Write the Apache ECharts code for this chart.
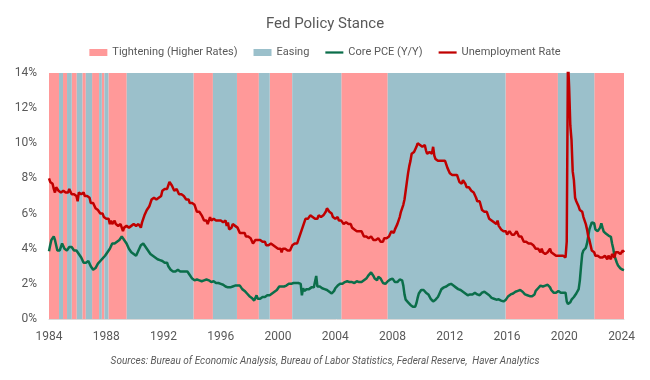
<!DOCTYPE html>
<html>
<head>
<meta charset="utf-8">
<script src="https://cdn.jsdelivr.net/npm/echarts@6/dist/echarts.min.js"></script>
<style>html,body{margin:0;padding:0;background:#fff}#c{width:650px;height:380px}</style>
</head>
<body>
<div id="c"></div>
<script>
// Monthly data, Jan 1984 .. Mar 2024
const startYear = 1984;
const unemployment = [
8.0,7.8,7.8,7.7,7.4,7.2,7.5,7.5,7.3,7.4,7.2,7.3,
7.3,7.2,7.2,7.3,7.2,7.4,7.4,7.1,7.1,7.1,7.0,7.0,
6.7,7.2,7.2,7.1,7.2,7.2,7.0,6.9,7.0,7.0,6.9,6.6,
6.6,6.6,6.6,6.3,6.3,6.2,6.1,6.0,5.9,6.0,5.8,5.7,
5.7,5.7,5.7,5.4,5.6,5.4,5.4,5.6,5.4,5.4,5.3,5.3,
5.4,5.2,5.0,5.2,5.2,5.3,5.2,5.2,5.3,5.3,5.4,5.4,
5.4,5.3,5.2,5.4,5.4,5.2,5.5,5.7,5.9,5.9,6.2,6.3,
6.4,6.6,6.8,6.7,6.9,6.9,6.8,6.9,6.9,7.0,7.0,7.3,
7.3,7.4,7.4,7.4,7.6,7.8,7.7,7.6,7.6,7.3,7.4,7.4,
7.3,7.1,7.0,7.1,7.1,7.0,6.9,6.8,6.7,6.8,6.6,6.5,
6.6,6.6,6.5,6.4,6.1,6.1,6.1,6.0,5.9,5.8,5.6,5.5,
5.6,5.4,5.4,5.8,5.6,5.6,5.7,5.7,5.6,5.5,5.6,5.6,
5.6,5.5,5.5,5.6,5.6,5.3,5.5,5.1,5.2,5.2,5.4,5.4,
5.3,5.2,5.2,5.1,4.9,5.0,4.9,4.8,4.9,4.7,4.6,4.7,
4.6,4.6,4.7,4.3,4.4,4.5,4.5,4.5,4.6,4.5,4.4,4.4,
4.3,4.4,4.2,4.3,4.2,4.3,4.3,4.2,4.2,4.1,4.1,4.0,
4.0,4.1,4.0,3.8,4.0,4.0,4.0,4.1,3.9,3.9,3.9,3.9,
4.2,4.2,4.3,4.4,4.3,4.5,4.6,4.9,5.0,5.3,5.5,5.7,
5.7,5.7,5.7,5.9,5.8,5.8,5.8,5.7,5.7,5.7,5.9,6.0,
5.8,5.9,5.9,6.0,6.1,6.3,6.2,6.1,6.1,6.0,5.8,5.7,
5.7,5.6,5.8,5.6,5.6,5.6,5.5,5.4,5.4,5.5,5.4,5.4,
5.3,5.4,5.2,5.2,5.1,5.0,5.0,4.9,5.0,5.0,5.0,4.9,
4.7,4.8,4.7,4.7,4.6,4.6,4.7,4.7,4.5,4.4,4.5,4.4,
4.6,4.5,4.4,4.5,4.4,4.6,4.7,4.6,4.7,4.7,4.7,5.0,
5.0,4.9,5.1,5.0,5.4,5.6,5.8,6.1,6.1,6.5,6.8,7.3,
7.8,8.3,8.7,9.0,9.4,9.5,9.5,9.6,9.8,10.0,9.9,9.9,
9.8,9.8,9.9,9.9,9.6,9.4,9.4,9.5,9.5,9.4,9.8,9.3,
9.1,9.0,9.0,9.1,9.0,9.1,9.0,9.0,9.0,8.8,8.6,8.5,
8.3,8.3,8.2,8.2,8.2,8.2,8.2,8.1,7.8,7.8,7.7,7.9,
8.0,7.7,7.5,7.6,7.5,7.5,7.3,7.2,7.2,7.2,6.9,6.7,
6.6,6.7,6.7,6.2,6.3,6.1,6.2,6.1,5.9,5.7,5.8,5.6,
5.7,5.5,5.4,5.4,5.6,5.3,5.2,5.1,5.0,5.0,5.1,5.0,
4.8,4.9,5.0,5.1,4.8,4.9,4.8,4.9,5.0,4.9,4.7,4.7,
4.7,4.6,4.4,4.4,4.4,4.3,4.3,4.4,4.3,4.2,4.2,4.1,
4.0,4.1,4.0,4.0,3.8,4.0,3.8,3.8,3.7,3.8,3.8,3.9,
4.0,3.8,3.8,3.7,3.6,3.6,3.7,3.6,3.5,3.6,3.6,3.6,
3.5,3.5,4.4,14.8,13.2,11.0,10.2,8.4,7.9,6.9,6.7,6.7,
6.4,6.2,6.1,6.1,5.8,5.9,5.4,5.1,4.7,4.5,4.2,3.9,
4.0,3.8,3.6,3.7,3.6,3.6,3.5,3.6,3.5,3.6,3.6,3.5,
3.4,3.6,3.5,3.4,3.7,3.6,3.5,3.8,3.8,3.8,3.7,3.7,
3.7,3.9,3.8
];
const corePCE = [
3.85,4.2,4.5,4.6,4.7,4.5,4.2,3.9,3.8,3.9,4.1,4.3,
4.2,4.0,3.9,3.9,4.0,4.1,4.0,4.1,4.0,3.9,3.9,3.9,
3.8,3.7,3.6,3.5,3.4,3.2,3.1,3.2,3.3,3.3,3.2,3.0,
2.9,2.8,2.8,2.9,3.0,3.15,3.2,3.3,3.35,3.45,3.5,3.6,
3.7,3.8,3.9,4.0,4.1,4.3,4.3,4.3,4.4,4.4,4.5,4.5,
4.6,4.7,4.6,4.5,4.4,4.3,4.2,4.0,3.9,3.8,3.8,3.7,
3.7,3.6,3.7,3.9,4.0,4.2,4.3,4.3,4.2,4.1,4.0,3.9,
3.8,3.7,3.7,3.6,3.5,3.5,3.4,3.4,3.4,3.35,3.3,3.3,
3.3,3.2,3.3,3.2,3.0,2.9,2.8,2.7,2.7,2.8,2.7,2.75,
2.8,2.8,2.7,2.7,2.7,2.8,2.7,2.65,2.7,2.6,2.5,2.4,
2.3,2.2,2.2,2.2,2.25,2.2,2.2,2.2,2.15,2.2,2.2,2.25,
2.25,2.2,2.2,2.15,2.1,2.1,2.15,2.1,2.05,2.1,2.05,2.0,
2.0,2.0,1.95,1.9,1.85,1.85,1.8,1.75,1.8,1.8,1.85,1.9,
1.9,1.85,1.9,1.85,1.9,1.8,1.7,1.65,1.6,1.5,1.45,1.4,
1.3,1.25,1.2,1.1,1.05,1.0,1.35,1.15,1.2,1.15,1.2,1.25,
1.3,1.25,1.3,1.35,1.3,1.35,1.4,1.45,1.5,1.55,1.6,1.65,
1.75,1.85,1.9,1.85,1.8,1.85,1.85,1.9,1.95,2.0,1.95,2.0,
2.0,2.05,2.1,2.05,2.1,2.05,2.0,2.0,1.35,1.75,1.6,1.7,
1.7,1.75,1.7,1.75,1.8,1.75,1.8,1.8,2.45,1.85,1.8,1.85,
1.8,1.75,1.7,1.7,1.65,1.65,1.6,1.55,1.5,1.45,1.5,1.6,
1.75,1.85,1.9,1.95,2.0,2.05,2.0,2.05,2.1,2.1,2.15,2.1,
2.1,2.15,2.1,2.1,2.05,2.1,2.15,2.1,2.1,2.15,2.1,2.2,
2.2,2.3,2.3,2.4,2.5,2.55,2.65,2.6,2.45,2.3,2.25,2.2,
2.4,2.5,2.3,2.2,2.05,1.95,2.0,2.1,2.15,2.2,2.25,2.3,
2.3,2.2,2.1,2.05,2.1,2.2,2.25,2.2,2.2,1.9,1.4,1.1,
1.0,0.95,0.85,0.8,0.75,0.7,0.62,0.7,0.9,1.2,1.45,1.55,
1.65,1.7,1.65,1.6,1.5,1.45,1.4,1.3,1.15,1.05,1.0,1.05,
1.1,1.15,1.25,1.4,1.55,1.7,1.75,1.8,1.85,1.85,1.9,1.95,
2.0,2.0,1.95,1.9,1.85,1.8,1.75,1.7,1.75,1.65,1.6,1.55,
1.5,1.45,1.4,1.35,1.35,1.4,1.45,1.4,1.45,1.5,1.45,1.4,
1.4,1.35,1.4,1.5,1.55,1.55,1.5,1.45,1.4,1.35,1.3,1.2,
1.15,1.15,1.1,1.1,1.15,1.12,1.1,1.05,1.0,1.0,1.05,1.1,
1.2,1.3,1.35,1.4,1.45,1.45,1.5,1.55,1.6,1.6,1.65,1.65,
1.6,1.55,1.45,1.4,1.35,1.35,1.3,1.3,1.27,1.3,1.35,1.4,
1.6,1.7,1.75,1.8,1.9,1.85,1.85,1.84,1.9,1.9,1.95,1.95,
1.8,1.65,1.55,1.5,1.45,1.5,1.55,1.6,1.55,1.5,1.45,1.5,
1.55,1.5,1.0,0.85,0.8,0.95,1.1,1.2,1.25,1.35,1.45,1.5,
1.7,2.2,3.0,3.7,3.9,3.95,4.05,4.3,4.7,5.1,5.3,5.5,
5.5,5.45,5.1,5.05,5.0,4.97,5.2,5.44,5.2,4.97,4.9,4.85,
4.8,4.75,4.7,4.68,4.3,4.0,3.6,3.4,3.2,3.05,2.95,2.88,
2.82,2.8,2.78
];
// Fed policy periods [start, end] in decimal years
const tighteningPeriods = [
[1984.0,1984.70],[1984.98,1985.26],[1985.59,1985.94],[1986.33,1986.57],
[1987.01,1987.50],[1987.69,1987.87],[1988.15,1989.43],[1994.09,1995.45],
[1997.13,1998.66],[1999.42,2000.99],[2004.42,2007.66],[2015.89,2019.55],
[2022.09,2024.17]
];
const easingPeriods = [
[1984.70,1984.98],[1985.26,1985.59],[1985.94,1986.33],[1986.57,1987.01],
[1987.50,1987.69],[1987.87,1988.15],[1989.43,1994.09],[1995.45,1997.13],
[1998.66,1999.42],[2000.99,2004.42],[2007.66,2015.89],[2019.55,2022.09]
];
const xTickLabels = [1984,1988,1992,1996,2000,2004,2008,2012,2016,2020,2024];

const toPairs = arr => arr.map((v, i) => [startYear + i / 12, v]);
const endYear = startYear + (unemployment.length - 1) / 12;
const areas = arr => arr.map(p => [{xAxis: p[0]}, {xAxis: p[1]}]);

const FONT = 'Roboto';
const LINE_ICON = 'path://M0,0L24,0L24,3L0,3Z';
const chart = echarts.init(document.getElementById('c'), null, {renderer: 'canvas'});
chart.setOption({
  animation: false,
  backgroundColor: '#ffffff',
  title: {
    text: 'Fed Policy Stance', left: 'center', top: 12,
    textStyle: {fontFamily: FONT, fontSize: 15, fontWeight: 'normal', color: '#595959'}
  },
  legend: {
    top: 42, left: 'center', itemWidth: 18, itemHeight: 7, itemGap: 16,
    symbolKeepAspect: true,
    textStyle: {fontFamily: FONT, fontSize: 11, color: '#595959'},
    data: [
      {name: 'Tightening (Higher Rates)', icon: 'rect'},
      {name: 'Easing', icon: 'rect'},
      {name: 'Core PCE (Y/Y)', icon: LINE_ICON},
      {name: 'Unemployment Rate', icon: LINE_ICON}
    ]
  },
  grid: {left: 49, right: 26, top: 73, bottom: 61, containLabel: false, outerBoundsMode: 'none'},
  xAxis: {
    type: 'value', min: startYear, max: endYear,
    axisLine: {show: true, lineStyle: {color: '#d9d9d9'}},
    axisTick: {show: false},
    splitLine: {show: false},
    axisLabel: {
      customValues: xTickLabels,
      fontFamily: FONT, fontSize: 12, color: '#595959', margin: 12,
      formatter: v => (Math.abs(v - Math.round(v)) < 1e-6 && Math.round(v) % 4 === 0) ? String(Math.round(v)) : ''
    }
  },
  yAxis: {
    type: 'value', min: 0, max: 14, interval: 2,
    axisLine: {show: false}, axisTick: {show: false}, splitLine: {show: false},
    axisLabel: {fontFamily: FONT, fontSize: 12, color: '#595959', margin: 12, formatter: '{value}%'}
  },
  series: [
    {
      name: 'Tightening (Higher Rates)', type: 'bar', data: [], z: 1,
      itemStyle: {color: '#FF9999'},
      markArea: {silent: true, itemStyle: {color: '#FF9999', opacity: 1}, data: areas(tighteningPeriods)}
    },
    {
      name: 'Easing', type: 'bar', data: [], z: 1,
      itemStyle: {color: '#9BC0CB'},
      markArea: {silent: true, itemStyle: {color: '#9BC0CB', opacity: 1}, data: areas(easingPeriods)}
    },
    {
      name: 'Core PCE (Y/Y)', type: 'line', data: toPairs(corePCE), z: 5,
      symbol: 'none', clip: true,
      lineStyle: {color: '#0B6E4A', width: 2.5}, itemStyle: {color: '#0B6E4A'}
    },
    {
      name: 'Unemployment Rate', type: 'line', data: toPairs(unemployment), z: 6,
      symbol: 'none', clip: true,
      lineStyle: {color: '#C00000', width: 2.5}, itemStyle: {color: '#C00000'}
    }
  ],
  graphic: [{
    type: 'text', left: 'center', top: 356,
    style: {
      text: 'Sources: Bureau of Economic Analysis, Bureau of Labor Statistics, Federal Reserve,  Haver Analytics',
      font: 'italic 10px Roboto', fill: '#595959'
    }
  }]
});
</script>
</body>
</html>
